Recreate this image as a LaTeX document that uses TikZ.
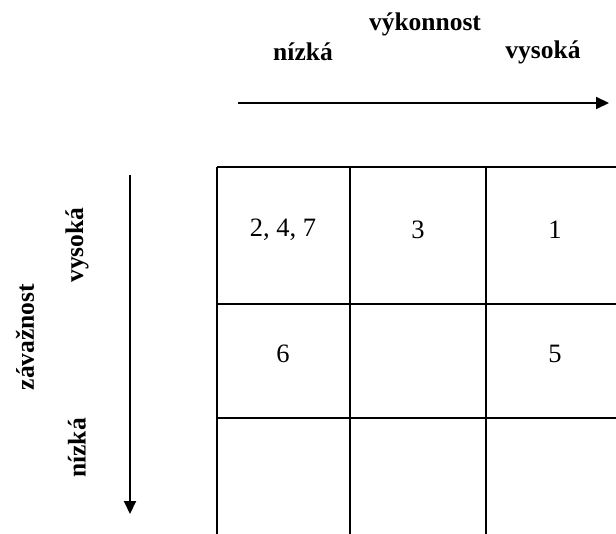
\documentclass[tikz,border=0pt]{standalone}
\usepackage{fontspec}
\setmainfont{Liberation Serif}
\usetikzlibrary{arrows.meta}
\begin{document}
\begin{tikzpicture}[x=1pt,y=-1pt,
  lbl/.style={font=\fontsize{25.5}{29}\selectfont\bfseries, inner sep=0pt},
  cell/.style={font=\fontsize{26.5}{30}\selectfont, inner sep=0pt},
  gridline/.style={line width=2.4pt},
  axis/.style={line width=2pt, -{Triangle[length=13pt,width=12pt]}}]
\useasboundingbox (0,0) rectangle (616,534);
\clip (0,0) rectangle (616,534);
% top labels
\node[lbl] (vyk) at (425,24) {výkonnost};
\node[lbl] (tn) at (303,52) {nízká};
\node[lbl] (tv) at (543,52) {vysoká};
\coordinate (ha) at (238,103);
\coordinate (hb) at (609,103);
\draw[axis] (ha) -- (hb);
% left labels
\node[lbl, rotate=90] (zav) at (25,337) {závažnost};
\node[lbl, rotate=90] (lv) at (77,245) {vysoká};
\node[lbl, rotate=90] (ln) at (77,448) {nízká};
\coordinate (va) at (130,175);
\coordinate (vb) at (130,514);
\draw[axis] (va) -- (vb);
% grid
\draw[gridline] (217,167) -- (630,167);
\draw[gridline] (217,304) -- (630,304);
\draw[gridline] (217,418) -- (630,418);
\draw[gridline] (217,167) -- (217,545);
\draw[gridline] (350,167) -- (350,545);
\draw[gridline] (486,167) -- (486,545);
% cell texts
\node[cell] (c11) at (283,230) {2, 4, 7};
\node[cell] (c12) at (418,230) {3};
\node[cell] (c13) at (555,230) {1};
\node[cell] (c21) at (283,354) {6};
\node[cell] (c23) at (555,354) {5};
\end{tikzpicture}
\end{document}
